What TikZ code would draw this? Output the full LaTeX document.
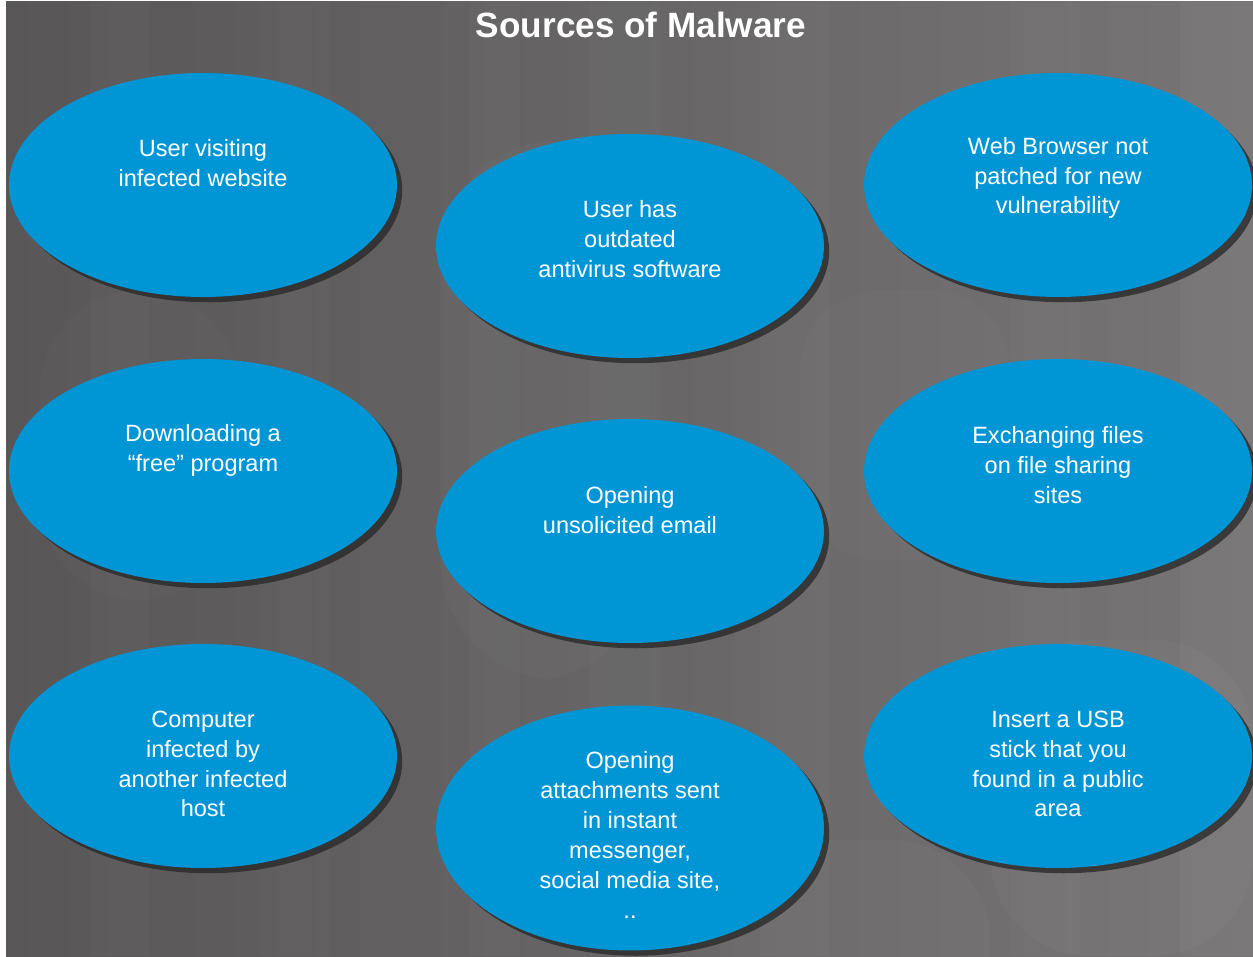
\documentclass[tikz,border=0pt]{standalone}
\usepackage{fontspec}
\setmainfont{Liberation Sans}
\usetikzlibrary{shapes.geometric,shadows}
\definecolor{bubble}{RGB}{0,150,214}
\definecolor{bgleft}{RGB}{88,86,86}
\definecolor{bgright}{RGB}{118,116,116}

\begin{document}
\begin{tikzpicture}
[
	x=0.02cm, y=-0.02cm,
	bubble/.style = {ellipse, fill=bubble, inner sep=0pt, minimum width=7.76cm, minimum height=4.48cm,
		drop shadow={shadow xshift=3pt, shadow yshift=-3pt, opacity=0.75, fill=black!85}},
	txt/.style = {text=white, align=center, font=\fontsize{13.4}{17}\selectfont, inner sep=0pt},
]
% background with stripes
\useasboundingbox (0,0) rectangle (1253,956);
\fill[white] (0,0) rectangle (1253,956);
\shade[left color=bgleft, right color=bgright] (6,2) rectangle (1253,956);
\foreach \a/\b/\o in {90/150/0.02, 260/330/0.015, 470/520/0.025, 590/660/0.02, 760/830/0.025, 1010/1080/0.02, 1180/1253/0.03}
\fill[white, opacity=\o] (\a,2) rectangle (\b,956);
\fill[white, opacity=0.02, rounded corners=2.4cm] (440,140) rectangle (650,680);
\fill[white, opacity=0.02, rounded corners=1.6cm] (800,290) rectangle (1010,560);
\fill[white, opacity=0.025, rounded corners=2cm] (990,640) rectangle (1253,956);
\fill[white, opacity=0.025, rounded corners=2cm] (720,840) rectangle (990,1100);
\fill[white, opacity=0.015, rounded corners=2cm] (40,290) rectangle (240,600);

% title
\node[text=white, font=\bfseries\fontsize{20}{24}\selectfont] (title) at (641,25) {Sources of Malware};

% the bubbles
\node[bubble] (e1) at (203,185) {};
\node[bubble] (e2) at (630,246) {};
\node[bubble] (e3) at (1058,185) {};
\node[bubble] (e4) at (203,471) {};
\node[bubble] (e5) at (630,531) {};
\node[bubble] (e6) at (1058,471) {};
\node[bubble] (e7) at (203,756) {};
\node[bubble, minimum height=4.9cm] (e8) at (630,828) {};
\node[bubble] (e9) at (1058,756) {};

% their texts
\node[txt] (t1) at (203,163) {User visiting\\infected website};
\node[txt] (t2) at (630,239) {User has\\outdated\\antivirus software};
\node[txt] (t3) at (1058,178) {Web Browser not\\patched for new\\vulnerability};
\node[txt] (t4) at (203,450) {Downloading a\\“free” program};
\node[txt] (t5) at (630,510) {Opening\\unsolicited email};
\node[txt] (t6) at (1058,465) {Exchanging files\\on file sharing\\sites};
\node[txt] (t7) at (203,764) {Computer\\infected by\\another infected\\host};
\node[txt] (t8) at (630,835) {Opening\\attachments sent\\in instant\\messenger,\\social media site,\\..};
\node[txt] (t9) at (1058,764) {Insert a USB\\stick that you\\found in a public\\area};
\end{tikzpicture}
\end{document}
